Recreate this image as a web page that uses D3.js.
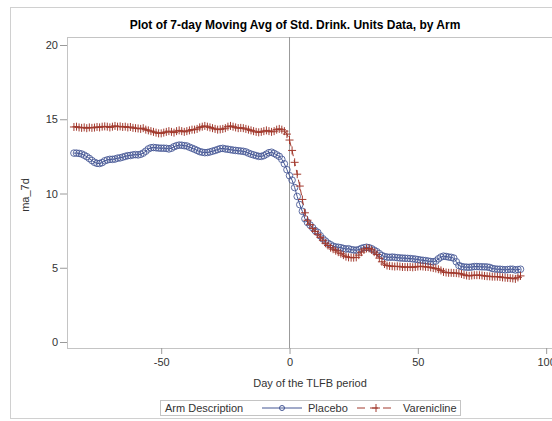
<!DOCTYPE html>
<html><head><meta charset="utf-8">
<script src="https://cdn.jsdelivr.net/npm/d3@7"></script>
<style>body{margin:0;background:#fff;}svg{display:block;font-family:"Liberation Sans",Arial,sans-serif;}</style>
</head><body><svg id="c" width="552" height="421"></svg>
<script>
const title = "Plot of 7-day Moving Avg of Std. Drink. Units Data, by Arm";
const xLabel = "Day of the TLFB period";
const yLabel = "ma_7d";
const legendTitle = "Arm Description";
const seriesNames = ["Placebo", "Varenicline"];
const xTicks = [-50, 0, 50, 100];
const yTicks = [0, 5, 10, 15, 20];
const firstDay = -84;
const placebo = [
12.72,12.72,12.70,12.66,12.58,12.48,12.36,12.22,12.10,12.03,
12.02,12.08,12.20,12.26,12.30,12.30,12.32,12.38,12.40,12.45,
12.50,12.55,12.56,12.60,12.62,12.60,12.64,12.72,12.85,13.00,
13.08,13.10,13.08,13.06,13.05,13.05,13.04,13.00,13.05,13.15,
13.22,13.26,13.25,13.22,13.20,13.12,13.05,12.98,12.90,12.82,
12.78,12.75,12.76,12.80,12.85,12.90,12.96,13.02,13.04,13.00,
12.98,12.95,12.92,12.90,12.88,12.86,12.84,12.80,12.72,12.65,
12.60,12.55,12.50,12.50,12.55,12.65,12.75,12.78,12.70,12.60,
12.50,12.30,12.00,11.60,11.20,10.90,10.40,9.80,9.25,8.80,
8.30,8.05,7.88,7.70,7.50,7.38,7.15,6.95,6.80,6.65,
6.55,6.45,6.40,6.38,6.35,6.30,6.26,6.28,6.22,6.20,
6.18,6.22,6.30,6.35,6.38,6.35,6.28,6.18,6.08,5.95,
5.82,5.75,5.72,5.70,5.72,5.70,5.68,5.66,5.65,5.64,
5.63,5.62,5.60,5.58,5.55,5.52,5.50,5.48,5.45,5.42,
5.40,5.45,5.60,5.72,5.78,5.76,5.72,5.70,5.65,5.40,
5.15,5.08,5.05,5.04,5.03,5.05,5.08,5.08,5.07,5.06,
5.06,5.05,5.02,4.95,4.92,4.90,4.90,4.88,4.86,4.88,
4.90,4.90,4.85,4.88,4.90];
const varenicline = [
14.48,14.50,14.45,14.42,14.45,14.40,14.45,14.42,14.44,14.48,
14.45,14.50,14.52,14.50,14.45,14.50,14.55,14.50,14.52,14.48,
14.50,14.45,14.48,14.42,14.40,14.38,14.35,14.40,14.30,14.25,
14.20,14.15,14.10,14.05,14.05,14.10,14.15,14.20,14.15,14.10,
14.20,14.25,14.20,14.15,14.20,14.25,14.30,14.30,14.35,14.45,
14.50,14.55,14.50,14.45,14.40,14.35,14.30,14.32,14.35,14.40,
14.50,14.55,14.50,14.45,14.40,14.42,14.40,14.35,14.30,14.25,
14.20,14.15,14.12,14.15,14.20,14.25,14.20,14.15,14.20,14.30,
14.35,14.30,14.20,14.00,13.60,12.90,12.10,11.30,10.50,9.60,
8.70,8.20,7.90,7.65,7.45,7.25,7.05,6.85,6.65,6.50,
6.35,6.25,6.15,6.05,5.95,5.85,5.75,5.70,5.68,5.68,
5.70,5.85,6.05,6.20,6.30,6.30,6.20,6.05,5.90,5.65,
5.40,5.25,5.15,5.12,5.10,5.08,5.10,5.08,5.05,5.05,
5.04,5.05,5.03,5.05,5.08,5.10,5.08,5.06,5.05,5.02,
4.98,4.95,4.90,4.82,4.72,4.68,4.66,4.66,4.65,4.64,
4.62,4.58,4.52,4.48,4.45,4.48,4.50,4.50,4.50,4.48,
4.45,4.43,4.42,4.40,4.40,4.40,4.38,4.35,4.33,4.32,
4.30,4.28,4.25,4.35,4.45];

const colors = ["#445694", "#a23a2e"];
const svg = d3.select("#c");
const L = 67, T = 37, R = 559, B = 348;
const x = d3.scaleLinear().domain([-86.7, 105.0]).range([L, R]);
const pxPerUnit = (342 - 45) / 20;
const y = d3.scaleLinear().domain([-(B - 342) / pxPerUnit, 20 + (45 - T) / pxPerUnit]).range([B, T]);

// outer frame
svg.append("rect").attr("x",10.5).attr("y",7.5).attr("width",600).attr("height",411)
  .attr("fill","none").attr("stroke","#d0d0d0");

svg.append("text").attr("x",295).attr("y",29).attr("text-anchor","middle")
  .attr("font-size","12px").attr("font-weight","bold").attr("fill","#000").text(title);

// plot frame
svg.append("rect").attr("x",L+0.5).attr("y",T+0.5).attr("width",R-L).attr("height",B-T)
  .attr("fill","#fff").attr("stroke","#c4c4c4");

// axes
const fmt = d => String(d);
const yAxis = d3.axisLeft(y).tickValues(yTicks).tickSize(6).tickPadding(3).tickFormat(fmt);
const gy = svg.append("g").attr("transform",`translate(${L},0)`).call(yAxis);
const xAxis = d3.axisBottom(x).tickValues(xTicks).tickSize(6).tickPadding(4).tickFormat(fmt);
const gx = svg.append("g").attr("transform",`translate(0,${B})`).call(xAxis);
[gx, gy].forEach(g => {
  g.select(".domain").remove();
  g.selectAll(".tick line").attr("stroke","#9a9a9a");
  g.selectAll(".tick text").attr("fill","#333").attr("font-size","11px")
    .attr("font-family","'Liberation Sans',Arial,sans-serif");
});
gy.selectAll(".tick line").attr("x2",-7);

svg.append("text").attr("transform","translate(29,195) rotate(-90)").attr("text-anchor","middle")
  .attr("font-size","11px").attr("fill","#333").text(yLabel);
svg.append("text").attr("x",310).attr("y",387).attr("text-anchor","middle")
  .attr("font-size","11px").attr("fill","#333").text(xLabel);

// reference line at day 0
svg.append("line").attr("x1",x(0)).attr("x2",x(0)).attr("y1",T).attr("y2",B)
  .attr("stroke","#9a9a9a").attr("stroke-width",1);

svg.append("clipPath").attr("id","pc").append("rect")
  .attr("x",L).attr("y",T).attr("width",R-L).attr("height",B-T);
const plot = svg.append("g").attr("clip-path","url(#pc)");

const line = d3.line().x((d,i)=>x(firstDay+i)).y(d=>y(d));
// Placebo
plot.append("path").datum(placebo).attr("d",line).attr("fill","none")
  .attr("stroke",colors[0]).attr("stroke-width",1);
plot.append("g").selectAll("circle").data(placebo).join("circle")
  .attr("cx",(d,i)=>x(firstDay+i)).attr("cy",d=>y(d)).attr("r",3.3)
  .attr("fill","none").attr("stroke",colors[0]).attr("stroke-width",1).attr("stroke-opacity",0.85);
// Varenicline
plot.append("path").datum(varenicline).attr("d",line).attr("fill","none")
  .attr("stroke",colors[1]).attr("stroke-width",1).attr("stroke-dasharray","6,4");
const cs = 4;
plot.append("g").selectAll("path.cr").data(varenicline).join("path").attr("class","cr")
  .attr("d",(d,i)=>{const cx=x(firstDay+i), cy=y(d);return `M${cx-cs},${cy}H${cx+cs}M${cx},${cy-cs}V${cy+cs}`;})
  .attr("stroke",colors[1]).attr("stroke-width",1);

// legend
const lg = svg.append("g");
lg.append("rect").attr("x",160.5).attr("y",400.5).attr("width",300).attr("height",15)
  .attr("fill","#fff").attr("stroke","#c4c4c4");
lg.append("text").attr("x",165).attr("y",412).attr("font-size","11px").attr("fill","#333").text(legendTitle);
lg.append("line").attr("x1",262).attr("x2",302).attr("y1",408).attr("y2",408).attr("stroke",colors[0]);
lg.append("circle").attr("cx",282).attr("cy",408).attr("r",2.5).attr("fill","none").attr("stroke",colors[0]);
lg.append("text").attr("x",308).attr("y",412).attr("font-size","11px").attr("fill","#333").text(seriesNames[0]);
lg.append("line").attr("x1",357).attr("x2",395).attr("y1",408).attr("y2",408).attr("stroke",colors[1]).attr("stroke-dasharray","8,5");
lg.append("path").attr("d","M372,408H380M376,404V412").attr("stroke",colors[1]);
lg.append("text").attr("x",403).attr("y",412).attr("font-size","11px").attr("fill","#333").text(seriesNames[1]);
</script></body></html>
